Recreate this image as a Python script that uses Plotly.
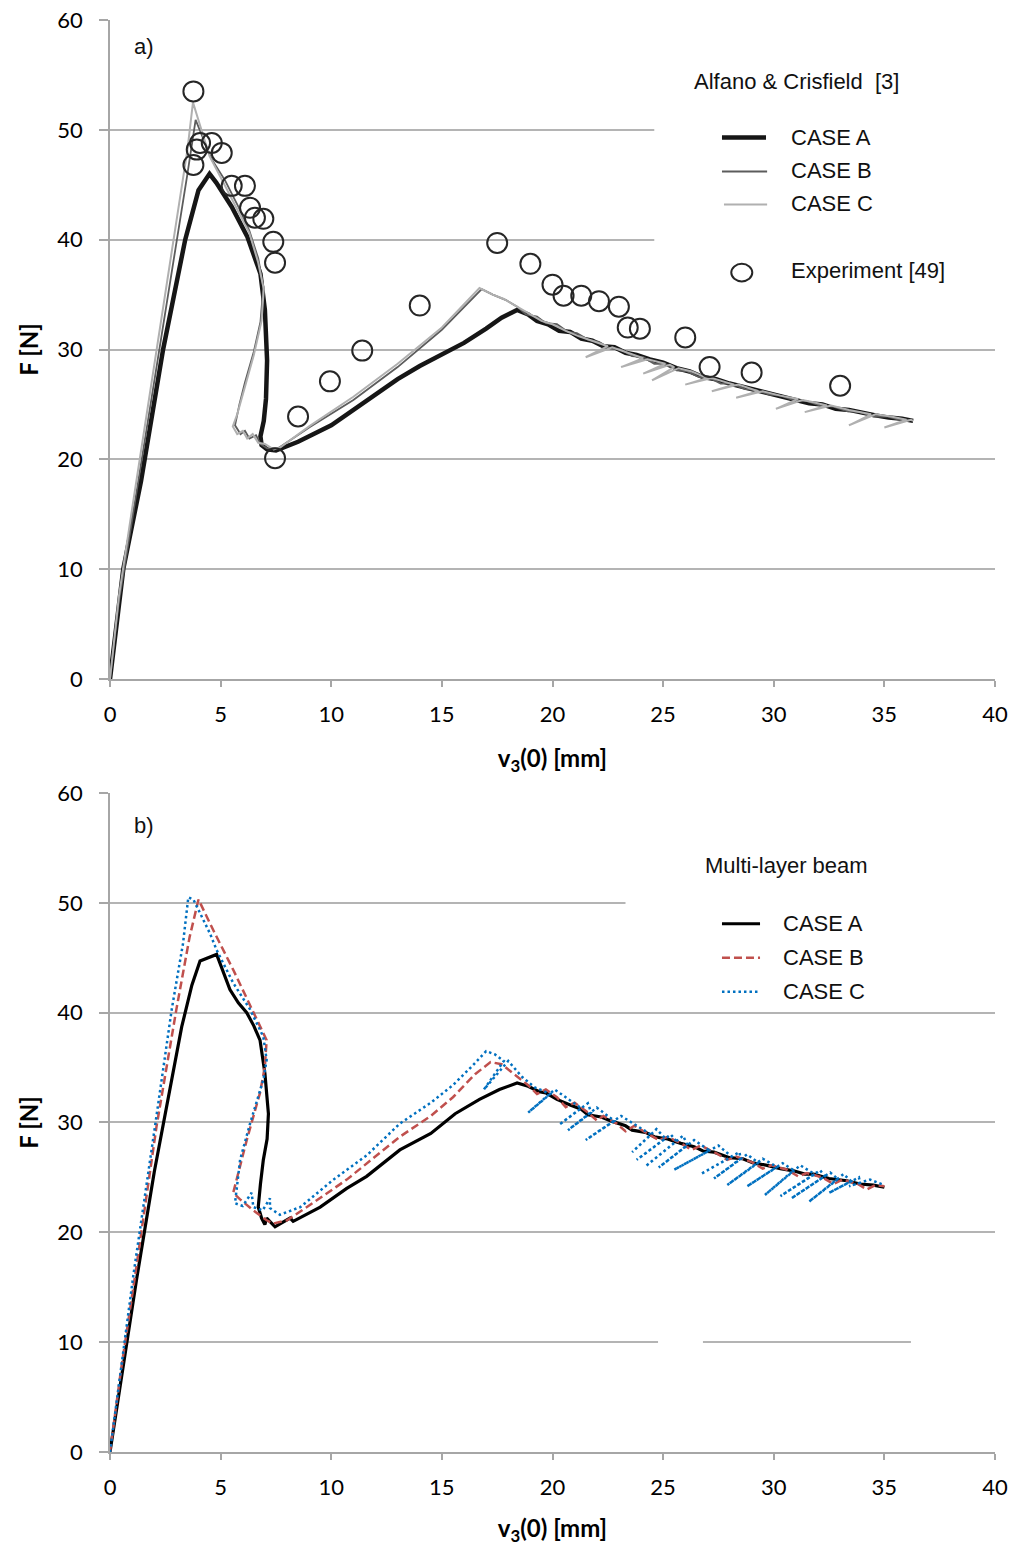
import plotly.graph_objects as go

# ---------------- DATA: panel a) ----------------
a_caseA_x = [0, 0.6, 1.4, 2.4, 3.4, 4.0, 4.5, 4.8, 5.5, 6.2, 6.8, 7.0, 7.1, 7.05, 6.95, 6.8, 6.85, 7.1, 7.5, 8.5,
             10.0, 11.5, 13.0, 14.0, 15.0, 16.0, 17.0, 17.7, 18.4, 18.9, 19.3, 19.8, 20.3, 20.8, 21.3, 21.8, 22.3,
             22.8, 23.3, 23.8, 24.4, 25.0, 25.6, 26.2, 26.8, 27.4, 28.0, 28.6, 29.2, 29.8, 30.4, 31.0, 31.6, 32.2,
             32.8, 33.4, 34.0, 34.6, 35.2, 35.8, 36.3]
a_caseA_y = [0, 10.0, 18.0, 30.0, 40.0, 44.5, 46.0, 45.2, 43.0, 40.3, 36.9, 33.6, 29.0, 25.5, 23.5, 22.1, 21.3, 20.9,
             20.8, 21.6, 23.1, 25.2, 27.3, 28.5, 29.6, 30.6, 31.9, 32.9, 33.6, 33.2, 32.6, 32.3, 31.7, 31.6, 31.0,
             30.8, 30.3, 30.2, 29.7, 29.5, 29.1, 28.8, 28.3, 28.0, 27.5, 27.3, 26.9, 26.6, 26.3, 26.1, 25.7, 25.5,
             25.1, 25.0, 24.6, 24.5, 24.2, 24.0, 23.8, 23.7, 23.5]

a_caseB_x = [0, 0.4, 1.0, 2.0, 3.0, 3.5, 3.87, 4.2, 4.6, 5.2, 5.8, 6.3, 6.7, 6.93, 6.8, 6.5, 6.1, 5.85, 5.65, 5.9,
             6.1, 6.3, 6.6, 6.8, 7.1, 7.6, 9.0, 11.0, 13.0, 15.0, 16.8, 17.3, 17.9, 18.4, 18.8, 19.3, 19.7, 20.2,
             20.7, 21.1, 21.6, 22.1, 22.6, 23.1, 23.6, 24.1, 24.6, 25.1, 25.6, 26.1, 26.6, 27.1, 27.6, 28.1, 28.7,
             29.2, 29.8, 30.3, 30.9, 31.5, 32.1, 32.7, 33.3, 33.9, 34.5, 35.1, 35.7, 36.2]
a_caseB_y = [0, 7.0, 14.5, 27.0, 39.5, 46.0, 50.9, 49.2, 47.3, 45.4, 43.0, 40.8, 38.3, 35.7, 32.5, 29.8, 27.0, 25.0,
             23.1, 22.3, 22.6, 21.9, 22.2, 21.4, 21.0, 21.0, 22.9, 25.4, 28.4, 31.8, 35.5, 35.0, 34.5, 33.9, 33.2,
             33.0, 32.4, 32.3, 31.6, 31.5, 30.9, 30.7, 30.1, 30.0, 29.4, 29.3, 28.7, 28.7, 28.1, 28.0, 27.5, 27.4,
             26.9, 26.9, 26.4, 26.3, 25.9, 25.8, 25.4, 25.3, 24.9, 24.8, 24.4, 24.3, 23.9, 23.9, 23.6, 23.6]

a_caseC_x = [0, 0.4, 1.0, 2.0, 3.0, 3.5, 3.75, 4.1, 4.5, 5.1, 5.7, 6.3, 6.7, 6.95, 6.85, 6.5, 6.1, 5.75, 5.55, 5.75,
             6.0, 6.2, 6.45, 6.7, 7.0, 7.4, 7.7, 9.0, 11.0, 13.0, 15.0, 16.7, 17.3, 17.8, 18.4, 18.9, 19.5, 20.0,
             20.6, 21.2, 21.8, 22.5, 21.5, 22.7, 23.4, 24.1, 23.1, 24.3, 25.1, 24.1, 25.3, 25.5, 24.5, 25.7, 26.3,
             27.0, 26.0, 27.2, 28.2, 27.2, 28.4, 29.3, 28.3, 29.5, 30.3, 31.1, 30.1, 31.3, 31.8, 32.4, 31.4, 32.6,
             33.4, 34.4, 33.4, 34.6, 35.3, 36.0, 35.0, 36.2, 36.3]
a_caseC_y = [0, 7.5, 15.5, 28.5, 41.5, 48.2, 52.5, 50.3, 47.6, 45.3, 42.9, 40.6, 37.9, 35.5, 32.6, 29.5, 26.6, 24.1,
             23.0, 22.3, 22.6, 21.9, 22.3, 21.5, 21.4, 20.9, 21.1, 23.0, 25.7, 28.7, 32.0, 35.6, 35.0, 34.6, 33.9,
             33.3, 32.6, 32.3, 31.7, 31.2, 30.8, 30.3, 29.3, 30.2, 29.7, 29.2, 28.4, 29.1, 28.7, 27.8, 28.6, 28.4,
             27.2, 28.3, 28.0, 27.4, 26.8, 27.4, 26.8, 26.2, 26.8, 26.2, 25.6, 26.2, 25.8, 25.5, 24.6, 25.4, 25.2,
             24.9, 24.3, 24.9, 24.5, 24.1, 23.1, 24.1, 23.9, 23.6, 22.9, 23.6, 23.5]

exp_x = [3.77, 3.77, 3.92, 4.07, 4.6, 5.05, 5.5, 6.1, 6.33, 6.55, 6.93, 7.38, 7.46, 7.46, 8.5, 9.94, 11.4, 14.0,
         17.5, 19.0, 20.0, 20.5, 21.3, 22.1, 23.0, 23.4, 23.95, 26.0, 27.1, 29.0, 33.0]
exp_y = [53.5, 46.8, 48.2, 48.8, 48.8, 47.9, 44.9, 44.9, 42.9, 42.0, 41.9, 39.8, 37.9, 20.1, 23.9, 27.1, 29.9, 34.0,
         39.7, 37.8, 35.9, 34.9, 34.9, 34.4, 33.9, 32.0, 31.9, 31.1, 28.4, 27.9, 26.7]

# ---------------- DATA: panel b) ----------------
b_caseA_x = [0, 0.6, 1.2, 2.0, 2.6, 3.24, 3.7, 4.07, 4.82, 5.1, 5.42, 5.8, 6.18, 6.5, 6.78, 7.0, 7.16, 7.1, 6.93,
             6.8, 6.7, 6.85, 7.0, 7.08, 7.46, 7.8, 8.14, 8.28, 9.5, 10.7, 11.6, 13.1, 14.5, 15.6, 16.7, 17.6, 18.4,
             18.9, 19.4, 19.7, 20.2, 20.8, 21.3, 21.6, 22.2, 22.7, 23.3, 23.6, 24.2, 24.6, 25.2, 25.8, 26.4, 26.8,
             27.3, 28.0, 28.6, 29.1, 29.7, 30.3, 30.9, 31.4, 31.8, 32.5, 33.3, 33.9, 34.5, 35.0]
b_caseA_y = [0, 8.0, 15.7, 25.5, 32.0, 38.7, 42.5, 44.7, 45.3, 43.8, 42.1, 40.9, 40.0, 38.8, 37.5, 34.5, 30.8, 28.5,
             26.6, 24.4, 22.3, 21.3, 20.7, 21.3, 20.5, 20.9, 21.3, 21.0, 22.3, 24.0, 25.1, 27.5, 29.0, 30.8, 32.1,
             33.0, 33.6, 33.3, 32.8, 32.7, 32.1, 31.6, 31.2, 30.7, 30.5, 30.1, 29.7, 29.3, 29.1, 28.7, 28.5, 28.1,
             27.8, 27.4, 27.3, 26.8, 26.7, 26.3, 26.1, 25.8, 25.6, 25.3, 25.3, 24.9, 24.7, 24.4, 24.3, 24.1]

b_caseB_x = [0, 0.5, 1.13, 2.1, 3.0, 3.6, 4.0, 4.67, 5.57, 6.33, 7.08, 7.0, 6.78, 6.18, 5.57, 5.88, 6.48, 7.08, 7.38,
             8.0, 8.9, 10.7, 13.1, 14.5, 15.5, 16.5, 17.2, 17.7, 18.4, 18.9, 19.3, 19.7, 20.2, 20.6, 21.0, 21.6,
             22.0, 22.3, 22.9, 23.3, 23.7, 24.3, 24.8, 25.2, 25.8, 26.3, 26.7, 27.4, 27.9, 28.3, 29.0, 29.5, 29.9,
             30.6, 31.1, 31.5, 32.2, 32.7, 33.1, 33.8, 34.2, 34.6, 35.0]
b_caseB_y = [0, 7.5, 16.0, 29.6, 40.3, 46.9, 50.3, 47.5, 43.9, 40.6, 37.5, 35.1, 32.7, 28.4, 23.6, 23.0, 22.0, 21.1,
             20.8, 21.1, 22.3, 24.8, 28.7, 30.6, 32.3, 34.4, 35.5, 35.3, 34.2, 33.4, 32.6, 33.0, 32.3, 31.4, 31.8,
             30.9, 30.2, 30.6, 29.9, 29.2, 29.7, 29.0, 28.4, 28.7, 28.1, 27.5, 27.9, 27.2, 26.6, 26.9, 26.4, 25.8,
             26.1, 25.7, 25.1, 25.4, 25.0, 24.4, 24.8, 24.4, 23.9, 24.3, 24.2]

b_caseC_x = [0, 0.5, 1.05, 2.03, 2.79, 3.3, 3.54, 3.77, 4.52, 4.82, 5.57, 6.33, 6.93, 7.08, 6.93, 6.33, 5.88, 5.65,
             6.0, 6.4, 6.48, 6.9, 7.23, 7.23, 7.68, 8.6, 10.1, 11.6, 13.1, 14.5, 15.5, 16.4, 17.0, 17.4, 17.8, 16.9,
             18.0, 18.6, 19.2,
             19.9, 18.9, 20.1, 21.3, 20.3, 21.6, 21.75, 20.7, 22.0, 22.8, 21.5, 23.1, 24.45, 23.6, 24.7,
             25.1, 23.8, 25.35, 25.6, 24.2, 25.9, 26.1, 24.8, 26.4, 27.1, 25.5, 27.5, 28.1, 26.7, 28.45,
             28.5, 27.3, 28.8, 29.3, 27.9, 29.5, 30.15, 28.8, 30.4, 30.9, 29.6, 31.2, 31.85, 30.3, 32.1,
             32.3, 30.8, 32.55, 32.9, 31.6, 33.15, 33.5, 32.5, 33.85, 33.9, 33.4, 34.35, 35.0]
b_caseC_y = [0, 7.6, 16.0, 29.6, 40.3, 46.3, 50.5, 50.3, 47.2, 45.7, 42.7, 40.3, 37.8, 35.7, 33.9, 29.9, 26.6, 22.65,
             22.4, 23.6, 22.3, 22.0, 23.1, 22.2, 21.6, 22.3, 24.8, 27.0, 29.9, 31.8, 33.4, 35.2, 36.5, 36.2, 35.6,
             33.0, 35.6, 34.2, 33.2,
             32.6, 30.9, 33.0, 31.3, 29.8, 31.75, 30.9, 29.3, 31.35, 30.15, 28.4, 30.6, 28.9, 27.3, 29.4,
             28.55, 26.6, 28.9, 28.3, 26.0, 28.8, 27.95, 25.9, 28.4, 27.45, 25.7, 27.9, 26.9, 25.3, 27.3,
             26.7, 24.9, 27.1, 26.35, 24.3, 26.7, 25.95, 24.2, 26.3, 25.65, 23.4, 26.1, 25.3, 23.3, 25.65,
             25.1, 23.1, 25.45, 24.85, 22.8, 25.3, 24.65, 23.6, 25.0, 24.5, 24.2, 24.8, 24.3]

x_ticks = [0, 5, 10, 15, 20, 25, 30, 35, 40]
y_ticks = [0, 10, 20, 30, 40, 50, 60]
legend_a_title = "Alfano & Crisfield  [3]"
legend_b_title = "Multi-layer beam"
case_names = ["CASE A", "CASE B", "CASE C"]
exp_name = "Experiment [49]"

# ---------------- FIGURE ----------------
fig = go.Figure()

fig.add_trace(go.Scatter(x=a_caseA_x, y=a_caseA_y, mode="lines", line=dict(color="#161616", width=4.5),
                         xaxis="x", yaxis="y", showlegend=False))
fig.add_trace(go.Scatter(x=a_caseB_x, y=a_caseB_y, mode="lines", line=dict(color="#5c5c5c", width=1.8),
                         xaxis="x", yaxis="y", showlegend=False))
fig.add_trace(go.Scatter(x=a_caseC_x, y=a_caseC_y, mode="lines", line=dict(color="#b0b0b0", width=2),
                         xaxis="x", yaxis="y", showlegend=False))
fig.add_trace(go.Scatter(x=exp_x, y=exp_y, mode="markers",
                         marker=dict(symbol="circle-open", size=20, color="#262626", line=dict(width=2)),
                         xaxis="x", yaxis="y", showlegend=False))

fig.add_trace(go.Scatter(x=b_caseA_x, y=b_caseA_y, mode="lines", line=dict(color="#000000", width=3.2),
                         xaxis="x2", yaxis="y2", showlegend=False))
fig.add_trace(go.Scatter(x=b_caseB_x, y=b_caseB_y, mode="lines",
                         line=dict(color="#C0504D", width=2.5, dash="8px,4px"),
                         xaxis="x2", yaxis="y2", showlegend=False))
fig.add_trace(go.Scatter(x=b_caseC_x, y=b_caseC_y, mode="lines",
                         line=dict(color="#0070C0", width=2.5, dash="2.5px,3px"),
                         xaxis="x2", yaxis="y2", showlegend=False))

tick_font = dict(family="Lato", size=22, color="#000000")
title_font = dict(family="Lato", size=24, color="#000000", weight="bold")
axis_line = "#A6A6A6"
grid_col = "#B4B4B4"

def xax(anchor):
    return dict(anchor=anchor, domain=[0, 1], range=[0, 40], tickvals=x_ticks, tickfont=tick_font,
                showline=True, linecolor=axis_line, linewidth=1.5, ticks="outside", ticklen=6,
                tickcolor=axis_line, tickwidth=1.5, showgrid=False, zeroline=False, ticklabelstandoff=9,
                automargin=False,
                title=dict(text="<b>v<sub>3</sub>(0) [mm]</b>", font=title_font, standoff=24))

def yax(anchor, domain):
    return dict(anchor=anchor, domain=domain, range=[0, 60], tickvals=y_ticks, tickfont=tick_font,
                showline=True, linecolor=axis_line, linewidth=1.5, ticks="outside", ticklen=9,
                tickcolor=axis_line, tickwidth=1.5, showgrid=True, gridcolor=grid_col, gridwidth=1.5,
                zeroline=False, ticklabelstandoff=12, automargin=False,
                title=dict(text="<b>F [N]</b>", font=title_font, standoff=12))

leg_font = dict(family="Liberation Sans", size=22, color="#111111")

def note(x, y, text, xr, yr):
    return dict(x=x, y=y, xref=xr, yref=yr, text=text, showarrow=False,
                xanchor="left", yanchor="middle", font=leg_font)

annotations = [
    note(1.0, 57.6, "a)", "x", "y"),
    note(26.3, 54.4, legend_a_title, "x", "y"),
    note(30.7, 49.3, case_names[0], "x", "y"),
    note(30.7, 46.3, case_names[1], "x", "y"),
    note(30.7, 43.3, case_names[2], "x", "y"),
    note(30.7, 37.2, exp_name, "x", "y"),
    note(1.0, 57.0, "b)", "x2", "y2"),
    note(26.8, 53.4, legend_b_title, "x2", "y2"),
    note(30.33, 48.1, case_names[0], "x2", "y2"),
    note(30.33, 45.0, case_names[1], "x2", "y2"),
    note(30.33, 41.9, case_names[2], "x2", "y2"),
]

shapes = [
    # masks hiding parts of gridlines (as in the original)
    dict(type="rect", xref="x", yref="y", x0=24.6, x1=40, y0=38, y1=52, fillcolor="white", line=dict(width=0), layer="between"),
    dict(type="rect", xref="x2", yref="y2", x0=23.3, x1=40, y0=48, y1=52, fillcolor="white", line=dict(width=0), layer="between"),
    dict(type="rect", xref="x2", yref="y2", x0=24.77, x1=26.8, y0=9, y1=11, fillcolor="white", line=dict(width=0), layer="between"),
    dict(type="rect", xref="x2", yref="y2", x0=36.2, x1=40, y0=9, y1=11, fillcolor="white", line=dict(width=0), layer="between"),
    # legend samples panel a
    dict(type="line", xref="x", yref="y", x0=27.66, x1=29.65, y0=49.3, y1=49.3, line=dict(color="#161616", width=4.5)),
    dict(type="line", xref="x", yref="y", x0=27.66, x1=29.7, y0=46.2, y1=46.2, line=dict(color="#5c5c5c", width=2)),
    dict(type="line", xref="x", yref="y", x0=27.75, x1=29.7, y0=43.2, y1=43.2, line=dict(color="#b0b0b0", width=2)),
    dict(type="circle", xref="x", yref="y", x0=28.08, x1=29.03, y0=36.2, y1=37.8, line=dict(color="#262626", width=2)),
    # legend samples panel b
    dict(type="line", xref="x2", yref="y2", x0=27.66, x1=29.38, y0=48.1, y1=48.1, line=dict(color="#000000", width=3)),
    dict(type="line", xref="x2", yref="y2", x0=27.66, x1=29.38, y0=45.0, y1=45.0, line=dict(color="#C0504D", width=2.5, dash="8px,4px")),
    dict(type="line", xref="x2", yref="y2", x0=27.66, x1=29.38, y0=41.9, y1=41.9, line=dict(color="#0070C0", width=2.5, dash="2.5px,3px")),
]

fig.update_layout(
    width=1016, height=1546,
    margin=dict(l=110, r=21, t=20, b=94, autoexpand=False),
    paper_bgcolor="white", plot_bgcolor="white",
    xaxis=xax("y"), yaxis=yax("x", [0.5398, 1.0]),
    xaxis2=xax("y2"), yaxis2=yax("x2", [0.0, 0.4602]),
    annotations=annotations, shapes=shapes, showlegend=False,
)

fig.write_html("out.html", config={"displayModeBar": False},
               post_script="document.body.style.margin='0';document.body.style.overflow='hidden';")
